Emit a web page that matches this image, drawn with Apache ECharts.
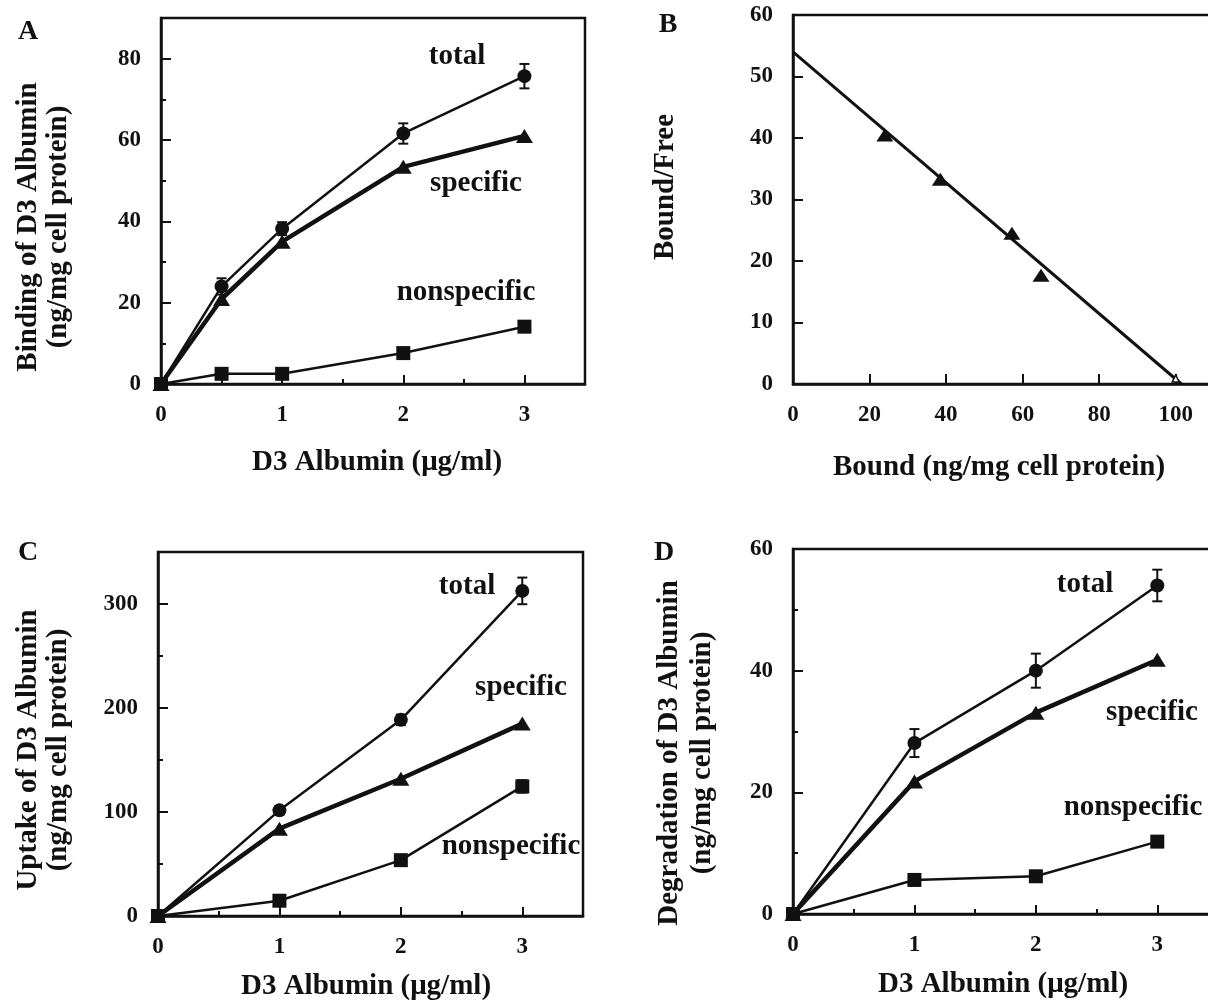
<!DOCTYPE html>
<html>
<head>
<meta charset="utf-8">
<script src="https://cdn.jsdelivr.net/npm/echarts@6/dist/echarts.min.js"></script>
<style>
html,body{margin:0;padding:0;background:#fff;}
#chart{width:1208px;height:1000px;}
</style>
</head>
<body>
<div id="chart"></div>
<script>
// ---------- Data ----------
// Panel A: binding
const xA = [0, 0.5, 1, 2, 3];
const totalA = [0, 24, 38.2, 61.6, 75.7];
const totalErrA = [0, 2, 1.6, 2.5, 3];
const specificA = [0, 20.9, 35, 53.4, 61];
const nonspecA = [0, 2.5, 2.5, 7.6, 14.1];

// Panel B: Scatchard plot
const boundB = [24, 38.5, 57.2, 64.8];
const ratioB = [40.5, 33.3, 24.5, 17.7];
const fitBoundB = [0, 101.5];
const fitRatioB = [54, 0];
const interceptB = [[100, 0.9]];

// Panel C: uptake
const xC = [0, 1, 2, 3];
const totalC = [0, 101.6, 188.6, 312.6];
const totalErrC = [0, 4, 5, 12.8];
const specificC = [0, 84, 132, 185];
const nonspecC = [0, 14.7, 53.7, 124.6];
const nonspecErrC = [0, 3, 4, 6];

// Panel D: degradation
const xD = [0, 1, 2, 3];
const totalD = [0, 28.1, 40, 54];
const totalErrD = [0, 2.3, 2.8, 2.6];
const specificD = [0, 21.8, 33.1, 41.8];
const nonspecD = [0, 5.6, 6.2, 11.9];

// Texts
const panelLetters = ['A', 'B', 'C', 'D'];
const seriesNames = ['total', 'specific', 'nonspecific'];
const xTitleConc = 'D3 Albumin (\u03bcg/ml)';
const xTitleBound = 'Bound (ng/mg cell protein)';
const yTitleA = ['Binding of D3 Albumin', '(ng/mg cell protein)'];
const yTitleB = 'Bound/Free';
const yTitleC = ['Uptake of D3 Albumin', '(ng/mg cell protein)'];
const yTitleD = ['Degradation of D3 Albumin', '(ng/mg cell protein)'];

// ---------- Helpers ----------
const FONT = 'Liberation Serif';
const INK = '#111';
const zip = (xs, ys) => xs.map((x, i) => [x, ys[i]]);
const zip3 = (xs, ys, es) => xs.map((x, i) => [x, ys[i], es[i]]);

function mainAxis(grid, max, interval, labelMax, tickLen, pos) {
  return {
    type: 'value', gridIndex: grid, min: 0, max: max, interval: interval, position: pos,
    axisLine: {show: true, onZero: false, lineStyle: {color: INK, width: 2.5}},
    axisTick: {show: true, inside: true, length: tickLen, lineStyle: {color: INK, width: 2}},
    axisLabel: {
      show: true, margin: 20, color: INK, fontFamily: FONT, fontWeight: 'bold', fontSize: 23,
      formatter: v => (v <= labelMax + 1e-9 && Math.abs(v / interval - Math.round(v / interval)) < 1e-6) ? String(v) : ''
    },
    splitLine: {show: false}
  };
}
function minorAxis(grid, max, interval, pos) {
  return {
    type: 'value', gridIndex: grid, min: 0, max: max, interval: interval, position: pos,
    axisLine: {show: false, onZero: false},
    axisTick: {show: true, inside: true, length: 5, lineStyle: {color: INK, width: 2}},
    axisLabel: {show: false},
    splitLine: {show: false}
  };
}
function errSeries(xi, yi, data) {
  return {
    type: 'custom', xAxisIndex: xi, yAxisIndex: yi, z: 1, silent: true,
    data: data,
    renderItem: function (params, api) {
      const x = api.value(0), y = api.value(1), e = api.value(2);
      if (!e) return null;
      const t = api.coord([x, y + e]), b = api.coord([x, y - e]);
      const w = 5;
      const st = {stroke: INK, lineWidth: 2};
      return {type: 'group', children: [
        {type: 'line', shape: {x1: t[0], y1: t[1], x2: b[0], y2: b[1]}, style: st},
        {type: 'line', shape: {x1: t[0] - w, y1: t[1], x2: t[0] + w, y2: t[1]}, style: st},
        {type: 'line', shape: {x1: b[0] - w, y1: b[1], x2: b[0] + w, y2: b[1]}, style: st}
      ]};
    }
  };
}
function lineSeries(name, xi, yi, data, symbol, size, width) {
  return {
    type: 'line', name: name, xAxisIndex: xi, yAxisIndex: yi, data: data,
    symbol: symbol, symbolSize: size, showSymbol: true, z: 3,
    lineStyle: {color: INK, width: width},
    itemStyle: {color: INK, borderWidth: 0, opacity: 1}
  };
}
function txt(text, x, y, size, rot) {
  return {
    type: 'text', x: x, y: y, rotation: rot || 0,
    style: {text: text, fill: INK, font: 'bold ' + size + 'px "' + FONT + '"', textAlign: 'center', textVerticalAlign: 'middle'}
  };
}

// ---------- Grids ----------
const grids = [
  {left: 161, top: 18, width: 424, height: 366},
  {left: 793, top: 15, width: 421, height: 369},
  {left: 158, top: 552, width: 425, height: 364},
  {left: 793, top: 549, width: 425, height: 365}
].map(g => Object.assign({show: true, borderColor: INK, borderWidth: 2.5, backgroundColor: 'transparent',
  containLabel: false, outerBoundsMode: 'none'}, g));

// x axes: 0 A main, 1 A minor, 2 B main, 3 C main, 4 C minor, 5 D main, 6 D minor
const xAxes = [
  mainAxis(0, 3.5, 1, 3, 9, 'bottom'), minorAxis(0, 3.5, 0.5, 'bottom'),
  mainAxis(1, 110, 20, 100, 10, 'bottom'),
  mainAxis(2, 3.5, 1, 3, 9, 'bottom'), minorAxis(2, 3.5, 0.5, 'bottom'),
  mainAxis(3, 3.5, 1, 3, 9, 'bottom'), minorAxis(3, 3.5, 0.5, 'bottom')
];
const yAxes = [
  mainAxis(0, 90, 20, 80, 10, 'left'), minorAxis(0, 90, 10, 'left'),
  mainAxis(1, 60, 10, 60, 10, 'left'),
  mainAxis(2, 350, 100, 300, 10, 'left'), minorAxis(2, 350, 50, 'left'),
  mainAxis(3, 60, 20, 60, 10, 'left'), minorAxis(3, 60, 10, 'left')
];

const TRI = [17, 14];
const series = [
  // A
  errSeries(0, 0, zip3(xA, totalA, totalErrA)),
  lineSeries(seriesNames[0], 0, 0, zip(xA, totalA), 'circle', 14, 2.5),
  lineSeries(seriesNames[1], 0, 0, zip(xA, specificA), 'triangle', TRI, 4.5),
  lineSeries(seriesNames[2], 0, 0, zip(xA, nonspecA), 'rect', 14, 2.5),
  // B
  {type: 'line', xAxisIndex: 2, yAxisIndex: 2, data: zip(fitBoundB, fitRatioB), symbol: 'none', z: 2,
   lineStyle: {color: INK, width: 3}},
  {type: 'scatter', xAxisIndex: 2, yAxisIndex: 2, data: zip(boundB, ratioB), symbol: 'triangle', symbolSize: [17, 13], z: 3,
   itemStyle: {color: INK, opacity: 1}},
  {type: 'scatter', xAxisIndex: 2, yAxisIndex: 2, data: interceptB, symbol: 'triangle', symbolSize: 7, z: 4,
   itemStyle: {color: '#fff', borderColor: INK, borderWidth: 1.5, opacity: 1}},
  // C
  errSeries(3, 3, zip3(xC, totalC, totalErrC)),
  errSeries(3, 3, zip3(xC, nonspecC, nonspecErrC)),
  lineSeries(seriesNames[0], 3, 3, zip(xC, totalC), 'circle', 14, 2.5),
  lineSeries(seriesNames[1], 3, 3, zip(xC, specificC), 'triangle', TRI, 4.5),
  lineSeries(seriesNames[2], 3, 3, zip(xC, nonspecC), 'rect', 14, 2.5),
  // D
  errSeries(5, 5, zip3(xD, totalD, totalErrD)),
  lineSeries(seriesNames[0], 5, 5, zip(xD, totalD), 'circle', 14, 2.5),
  lineSeries(seriesNames[1], 5, 5, zip(xD, specificD), 'triangle', TRI, 4.5),
  lineSeries(seriesNames[2], 5, 5, zip(xD, nonspecD), 'rect', 14, 2.5)
];

const R = Math.PI / 2;
const graphic = [
  // panel letters
  txt(panelLetters[0], 28, 32, 28), txt(panelLetters[1], 668, 25, 28),
  txt(panelLetters[2], 28, 553, 28), txt(panelLetters[3], 664, 553, 28),
  // series labels
  txt(seriesNames[0], 457, 57, 29), txt(seriesNames[1], 476, 184, 29), txt(seriesNames[2], 466, 293, 29),
  txt(seriesNames[0], 467, 587, 29), txt(seriesNames[1], 521, 688, 29), txt(seriesNames[2], 511, 847, 29),
  txt(seriesNames[0], 1085, 585, 29), txt(seriesNames[1], 1152, 713, 29), txt(seriesNames[2], 1133, 808, 29),
  // x titles
  txt(xTitleConc, 377, 463, 29), txt(xTitleBound, 999, 468, 29),
  txt(xTitleConc, 366, 987, 29), txt(xTitleConc, 1003, 985, 29),
  // y titles
  txt(yTitleA[0], 29, 227, 29, R), txt(yTitleA[1], 59, 227, 29, R),
  txt(yTitleB, 666, 187, 29, R),
  txt(yTitleC[0], 29, 750, 29, R), txt(yTitleC[1], 59, 750, 29, R),
  txt(yTitleD[0], 670, 753, 29, R), txt(yTitleD[1], 703, 753, 29, R)
];

const chart = echarts.init(document.getElementById('chart'), null, {renderer: 'canvas'});
chart.setOption({
  animation: false,
  backgroundColor: '#fff',
  grid: grids,
  xAxis: xAxes,
  yAxis: yAxes,
  series: series,
  graphic: graphic
});
</script>
</body>
</html>
